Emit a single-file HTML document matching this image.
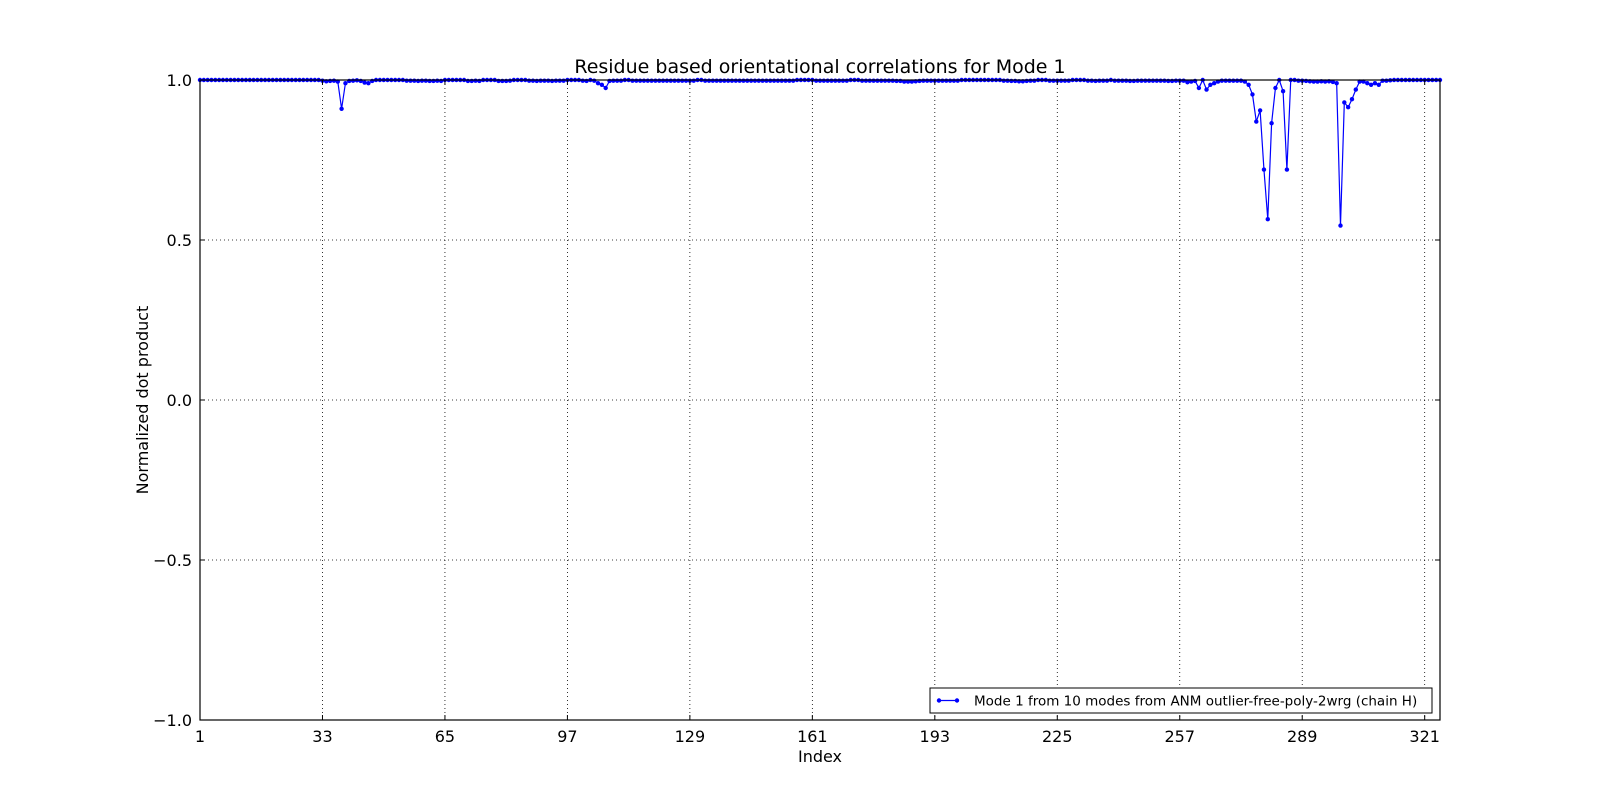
<!DOCTYPE html>
<html><head><meta charset="utf-8"><style>
html,body{margin:0;padding:0;background:#fff;}
svg{display:block;font-family:"DejaVu Sans","Liberation Sans",sans-serif;}
</style></head><body>
<svg id="chart" width="1600" height="800" viewBox="0 0 1600 800">
<rect width="1600" height="800" fill="#fff"/>
<text x="820" y="73" font-size="19" text-anchor="middle">Residue based orientational correlations for Mode 1</text>
<g id="grid"></g>
<g id="series"></g>
<rect x="200" y="80" width="1240" height="640" fill="none" stroke="#000" stroke-width="1.2"/>
<g id="ticks"></g>
<text x="820" y="762" font-size="16" text-anchor="middle">Index</text>
<text x="0" y="0" font-size="16" text-anchor="middle" transform="translate(148,400) rotate(-90)">Normalized dot product</text>
<g>
<rect x="930" y="688" width="502" height="25" fill="#fff" stroke="#000" stroke-width="1"/>
<line x1="938" y1="700.5" x2="958" y2="700.5" stroke="#0000ff" stroke-width="1.2"/>
<circle cx="939" cy="700.5" r="2.2" fill="#0000ff"/>
<circle cx="957" cy="700.5" r="2.2" fill="#0000ff"/>
<text x="974" y="705.5" font-size="13.5">Mode 1 from 10 modes from ANM outlier-free-poly-2wrg (chain H)</text>
</g>
</svg>
<script>
const xTicks = [1,33,65,97,129,161,193,225,257,289,321];
const yTicks = [1.0,0.5,0.0,-0.5,-1.0];
const yTickLabels = ["1.0","0.5","0.0","\u22120.5","\u22121.0"];
const values = [
1,1,1,1,1,1,1,1,1,1,1,1,1,1,1,1,1,1,1,1,
1,1,1,1,1,1,1,1,1,1,1,1,0.998,0.996,0.997,0.998,0.995,0.91,0.99,0.997,
0.998,0.999,0.997,0.992,0.99,0.997,1,1,1,1,1,1,1,1,0.998,0.998,0.998,0.997,0.998,0.998,
0.997,0.997,0.998,0.997,1,1,1,1,1,1,0.997,0.997,0.998,0.997,1,1,1,1,0.997,0.997,
0.997,0.998,1,1,1,1,0.998,0.998,0.997,0.998,0.998,0.998,0.997,0.998,0.998,0.998,1,1,1,1,
0.998,0.997,1,0.998,0.99,0.985,0.975,0.997,0.998,0.998,0.998,1,1,0.998,0.998,0.998,0.998,0.998,0.998,0.998,0.998,
0.998,0.998,0.998,0.998,0.998,0.998,0.998,0.998,0.998,1,1,0.998,0.998,0.998,0.998,0.998,0.998,0.998,0.998,
0.998,0.998,0.998,0.998,0.998,0.998,0.998,0.998,0.998,0.998,0.998,0.998,0.998,0.998,0.998,0.998,1,1,1,1,
1,0.998,0.998,0.998,0.998,0.998,0.998,0.998,0.998,0.998,1,1,1,0.998,0.998,0.998,0.998,0.998,0.998,0.998,
0.998,0.998,0.997,0.997,0.995,0.995,0.995,0.996,0.997,0.998,0.998,0.998,0.998,0.998,0.998,0.998,0.998,0.998,0.998,1,
1,1,1,1,1,1,1,1,1,1,0.998,0.998,0.997,0.997,0.996,0.996,0.997,0.998,0.998,1,
1,1,0.998,0.998,0.998,0.998,0.998,0.998,1,1,1,1,0.998,0.998,0.997,0.998,0.998,0.998,1,0.998,
0.998,0.998,0.998,0.997,0.997,0.998,0.998,0.998,0.998,0.998,0.998,0.998,0.998,0.997,0.997,0.998,0.998,0.998,0.993,0.995,
0.997,0.975,1,0.97,0.985,0.99,0.995,0.998,0.998,0.998,0.998,0.998,0.998,0.995,0.985,0.955,0.87,0.905,0.72,0.565,0.865,
0.975,1,0.965,0.72,1,1,0.998,0.998,0.997,0.996,0.995,0.995,0.996,0.995,0.996,0.994,0.99,0.545,0.93,0.915,
0.94,0.97,0.995,0.995,0.99,0.985,0.99,0.985,0.998,0.998,0.999,1,1,1,1,1,1,1,1,1,
1,1,1,1
];
const X0=200,X1=1440,Y0=80,Y1=720,XMIN=1,XMAX=325,YMIN=-1,YMAX=1;
function sx(v){return X0+(v-XMIN)/(XMAX-XMIN)*(X1-X0);}
function sy(v){return Y1-(v-YMIN)/(YMAX-YMIN)*(Y1-Y0);}
const NS='http://www.w3.org/2000/svg';
const grid=document.getElementById('grid'),ticks=document.getElementById('ticks'),series=document.getElementById('series');
function mk(tag,attrs,parent){const e=document.createElementNS(NS,tag);for(const k in attrs)e.setAttribute(k,attrs[k]);parent.appendChild(e);return e;}
xTicks.forEach(t=>{
  const x=sx(t);
  const g=mk('line',{x1:x,y1:Y0,x2:x,y2:Y1,stroke:'#000','stroke-width':0.8,'stroke-dasharray':'1,3'},grid);
  
  
  const a=mk('line',{x1:x,y1:Y1,x2:x,y2:Y1-5,stroke:'#000','stroke-width':1},ticks);
  
  
  const b=mk('line',{x1:x,y1:Y0,x2:x,y2:Y0+5,stroke:'#000','stroke-width':1},ticks);
  
  
  const l=mk('text',{x:x,y:Y1+22,'font-size':16,'text-anchor':'middle'},ticks);
  l.textContent=String(t);
  
  
});
yTicks.forEach((t,i)=>{
  const y=sy(t);
  const g=mk('line',{x1:X0,y1:y,x2:X1,y2:y,stroke:'#000','stroke-width':0.8,'stroke-dasharray':'1,3'},grid);
  
  
  const a=mk('line',{x1:X0,y1:y,x2:X0+5,y2:y,stroke:'#000','stroke-width':1},ticks);
  
  
  const b=mk('line',{x1:X1,y1:y,x2:X1-5,y2:y,stroke:'#000','stroke-width':1},ticks);
  
  
  const l=mk('text',{x:X0-8,y:y+6,'font-size':16,'text-anchor':'end'},ticks);
  l.textContent=yTickLabels[i];
  
  
});
const pts=values.map((v,i)=>sx(i+1).toFixed(2)+','+sy(v).toFixed(2)).join(' ');
const pl=mk('polyline',{points:pts,fill:'none',stroke:'#0000ff','stroke-width':1.2},series);


values.forEach((v,i)=>{
  const c=mk('circle',{cx:sx(i+1),cy:sy(v),r:2.2,fill:'#0000ff'},series);
  
  
});
</script>
</body></html>
